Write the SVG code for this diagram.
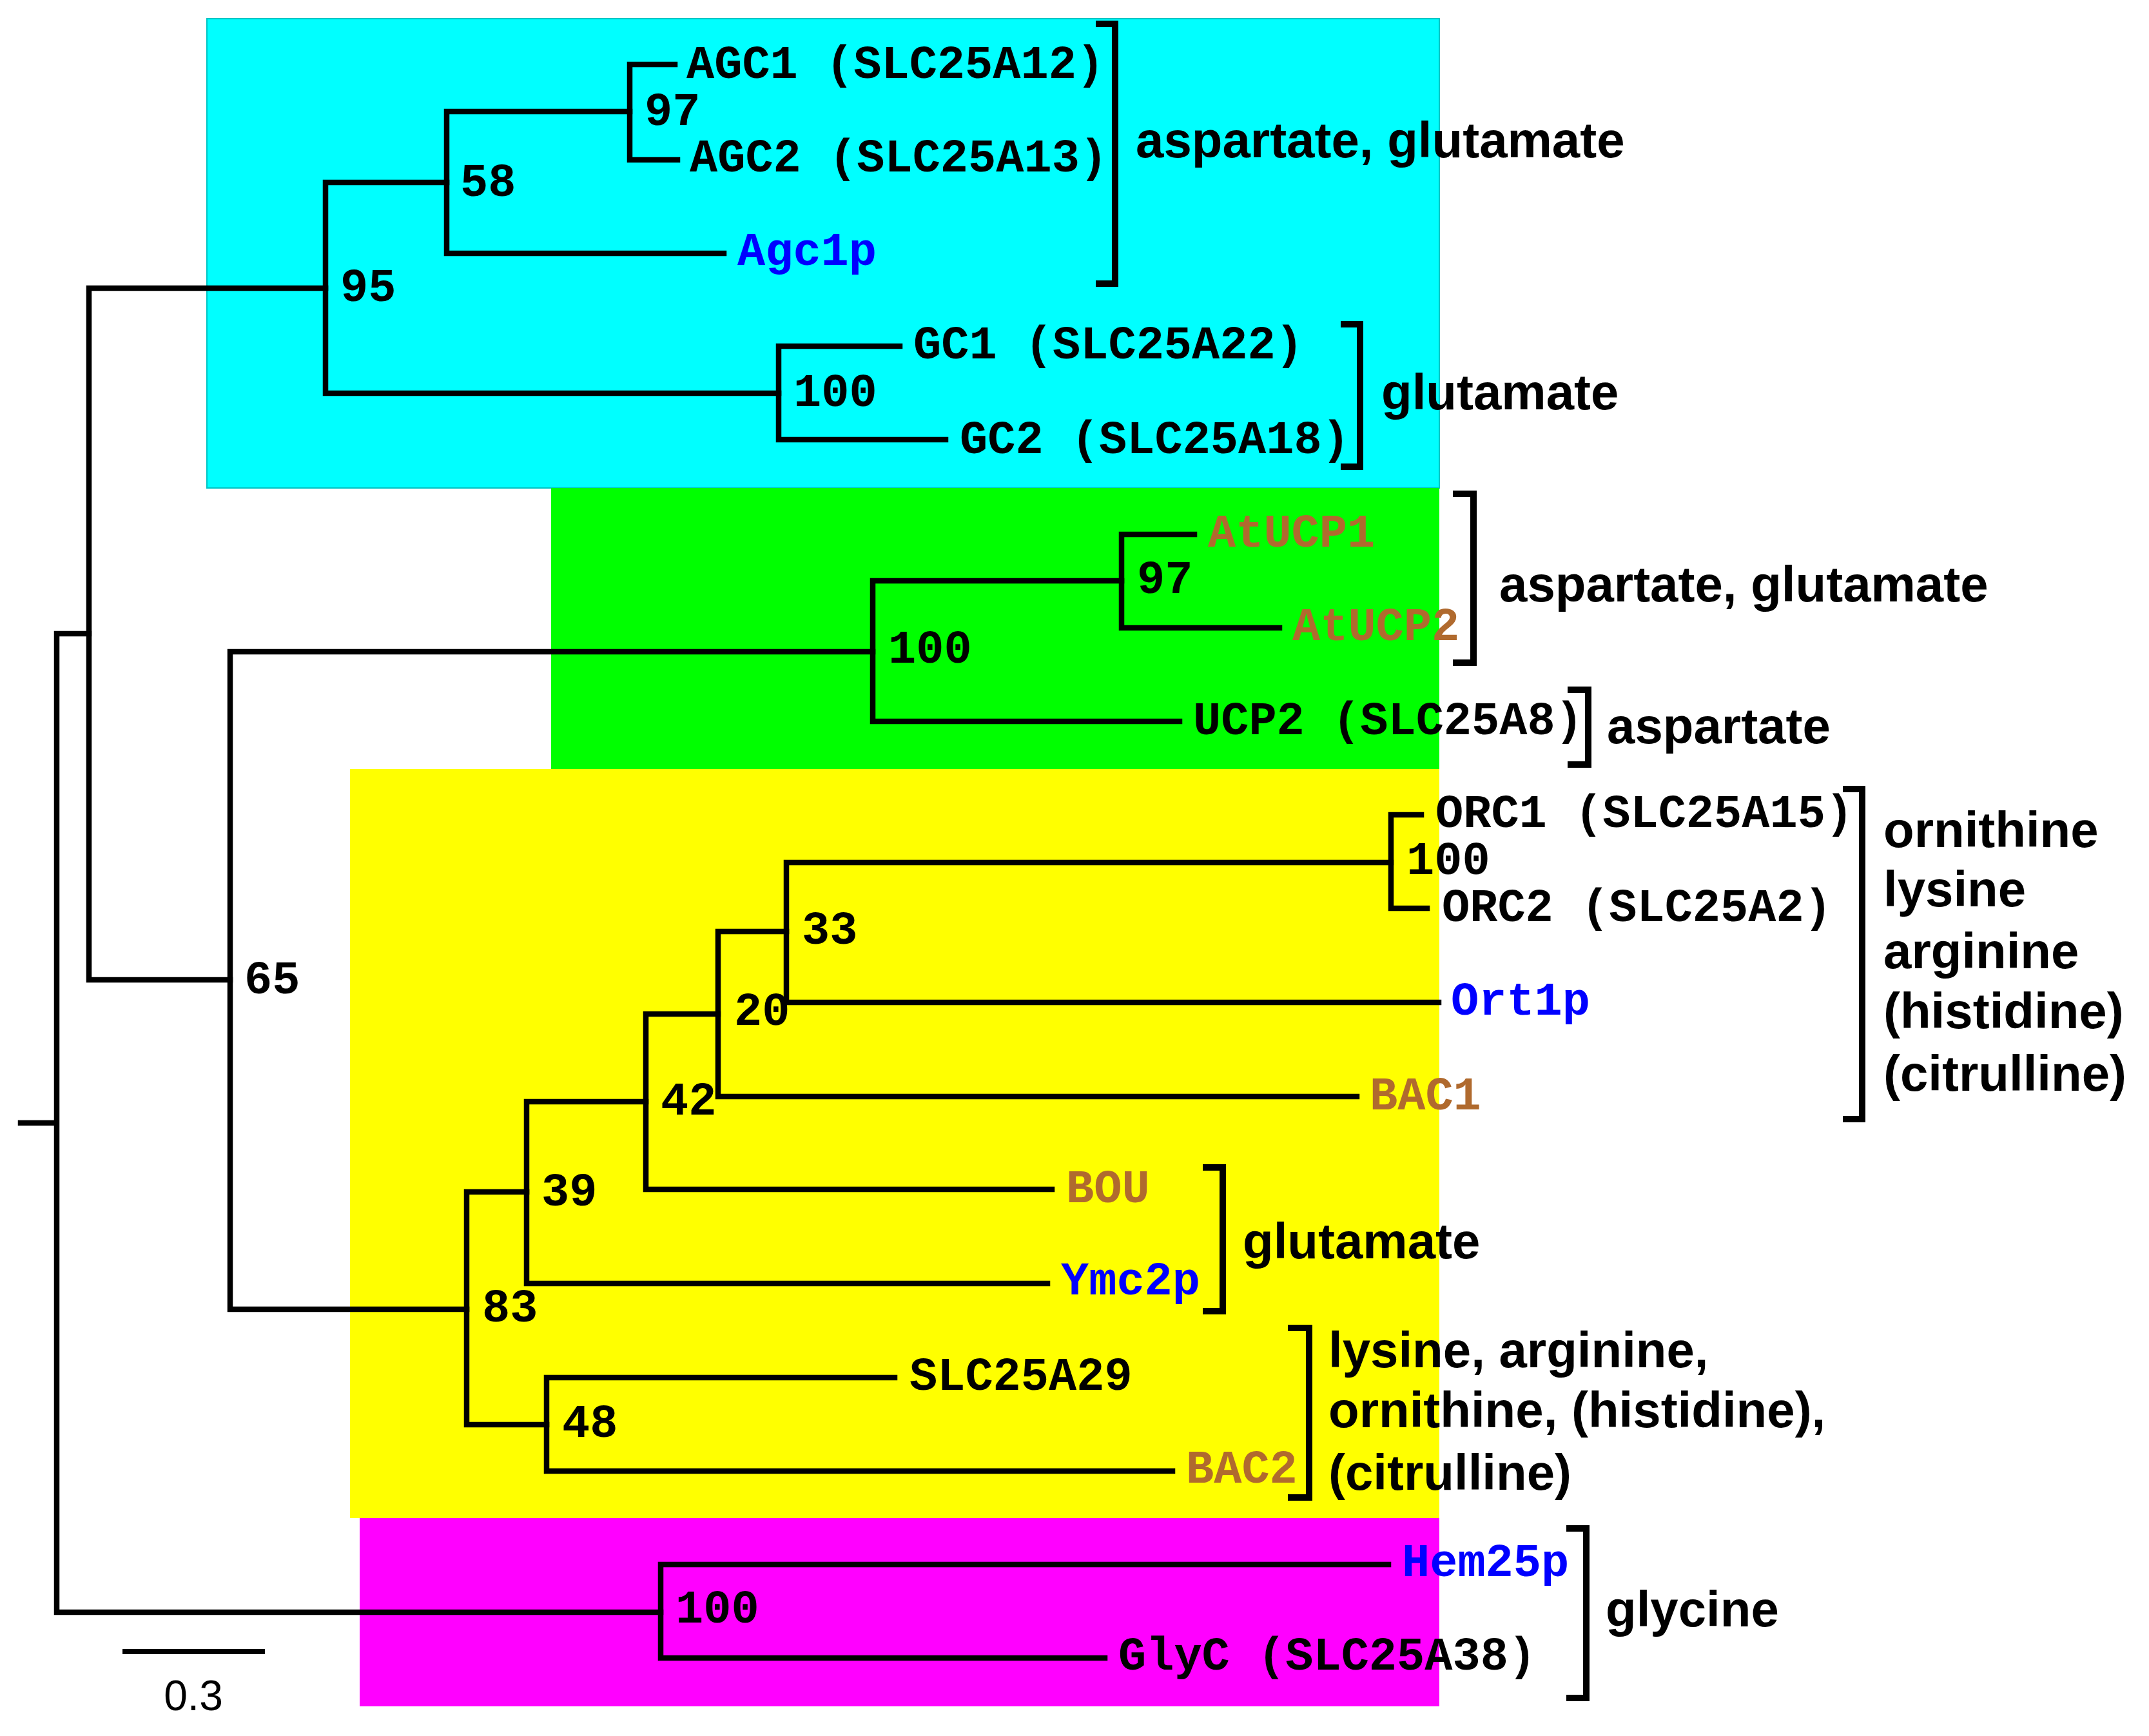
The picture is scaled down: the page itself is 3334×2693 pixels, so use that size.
<svg xmlns="http://www.w3.org/2000/svg" width="3334" height="2693" viewBox="0 0 3334 2693">
<style>
.tree{fill:none;stroke:#000;stroke-width:8.5;stroke-linecap:square;stroke-linejoin:miter}
.br{fill:none;stroke:#000;stroke-width:10;stroke-linejoin:miter}
.m{font-family:"Liberation Mono","Courier New",monospace;font-weight:bold;font-size:72px;fill:#000}
.bs{font-family:"Liberation Mono","Courier New",monospace;font-weight:bold;font-size:72px;fill:#000}
.brown{fill:#B06A2E}
.blue{fill:#0000FF}
.lab{font-family:"Liberation Sans",Arial,sans-serif;font-weight:bold;font-size:78px;fill:#000}
.sc{font-family:"Liberation Sans",Arial,sans-serif;font-size:66px;fill:#000}
</style>
<rect width="3334" height="2693" fill="#fff"/>
<g id="regions">
<rect x="321" y="29" width="1912" height="728" fill="#00FFFF" stroke="#00C4C4" stroke-width="2"/>
<rect x="855" y="757" width="1378" height="436" fill="#00FF00"/>
<rect x="543" y="1193" width="1690" height="1162" fill="#FFFF00"/>
<rect x="558" y="2355" width="1675" height="292" fill="#FF00FF"/>
</g>
<g id="connectors" class="tree">
<path d="M32 1742H88M88 983V2501M88 983H138M88 2501H1025"/>
<path d="M138 447V1520M138 447H505M138 1520H357"/>
<path d="M505 283V610M505 283H693M505 610H1208"/>
<path d="M693 173V393M693 173H977M693 393H1123"/>
<path d="M977 100V248M977 100H1047M977 248H1051"/>
<path d="M1208 537V682M1208 537H1396M1208 682H1467"/>
<path d="M357 1011V2031M357 1011H1354M357 2031H724"/>
<path d="M1354 901V1119M1354 901H1740M1354 1119H1830"/>
<path d="M1740 829V974M1740 829H1853M1740 974H1985"/>
<path d="M724 1849V2210M724 1849H817M724 2210H848"/>
<path d="M817 1709V1991M817 1709H1002M817 1991H1625"/>
<path d="M1002 1573V1845M1002 1573H1114M1002 1845H1632"/>
<path d="M1114 1445V1701M1114 1445H1220M1114 1701H2105"/>
<path d="M1220 1338V1555M1220 1338H2158M1220 1555H2232"/>
<path d="M2158 1264V1409M2158 1264H2205M2158 1409H2214"/>
<path d="M848 2137V2282M848 2137H1388M848 2282H1819"/>
<path d="M1025 2427V2572M1025 2427H2154M1025 2572H1714"/>
</g>
<g id="bootstrap" class="bs">
<text x="1000" y="194">97</text>
<text x="714" y="304">58</text>
<text x="528" y="467">95</text>
<text x="1231" y="630">100</text>
<text x="1764" y="920">97</text>
<text x="1378" y="1028">100</text>
<text x="379" y="1541">65</text>
<text x="2182" y="1356">100</text>
<text x="1244" y="1464">33</text>
<text x="1139" y="1590">20</text>
<text x="1025" y="1729">42</text>
<text x="840" y="1870">39</text>
<text x="748" y="2050">83</text>
<text x="872" y="2229">48</text>
<text x="1048" y="2517">100</text>
</g>
<g id="leaf-AGC1"><text class="m" x="1065" y="121">AGC1 (SLC25A12)</text></g>
<g id="leaf-AGC2"><text class="m" x="1070" y="266">AGC2 (SLC25A13)</text></g>
<g id="leaf-Agc1p"><text class="m blue" x="1144" y="411">Agc1p</text></g>
<g id="leaf-GC1"><text class="m" x="1417" y="556">GC1 (SLC25A22)</text></g>
<g id="leaf-GC2"><text class="m" x="1489" y="703">GC2 (SLC25A18)</text></g>
<g id="leaf-AtUCP1"><text class="m brown" x="1874" y="848">AtUCP1</text></g>
<g id="leaf-AtUCP2"><text class="m brown" x="2005" y="993">AtUCP2</text></g>
<g id="leaf-UCP2"><text class="m" x="1851" y="1139">UCP2 (SLC25A8)</text></g>
<g id="leaf-ORC1"><text class="m" x="2227" y="1283">ORC1 (SLC25A15)</text></g>
<g id="leaf-ORC2"><text class="m" x="2237" y="1429">ORC2 (SLC25A2)</text></g>
<g id="leaf-Ort1p"><text class="m blue" x="2251" y="1574">Ort1p</text></g>
<g id="leaf-BAC1"><text class="m brown" x="2125" y="1721">BAC1</text></g>
<g id="leaf-BOU"><text class="m brown" x="1654" y="1865">BOU</text></g>
<g id="leaf-Ymc2p"><text class="m blue" x="1646" y="2008">Ymc2p</text></g>
<g id="leaf-SLC25A29"><text class="m" x="1411" y="2156">SLC25A29</text></g>
<g id="leaf-BAC2"><text class="m brown" x="1840" y="2300">BAC2</text></g>
<g id="leaf-Hem25p"><text class="m blue" x="2175" y="2445">Hem25p</text></g>
<g id="leaf-GlyC"><text class="m" x="1735" y="2590">GlyC (SLC25A38)</text></g>
<g id="group-1">
<path class="br" d="M1700 37H1730V440H1700"/>
<text class="lab" x="1762" y="244">aspartate, glutamate</text>
</g>
<g id="group-2">
<path class="br" d="M2080 503H2110V724H2080"/>
<text class="lab" x="2143" y="635">glutamate</text>
</g>
<g id="group-3">
<path class="br" d="M2254 766H2286V1028H2254"/>
<text class="lab" x="2326" y="933">aspartate, glutamate</text>
</g>
<g id="group-4">
<path class="br" d="M2432 1070H2464V1186H2432"/>
<text class="lab" x="2493" y="1153">aspartate</text>
</g>
<g id="group-5">
<path class="br" d="M2859 1224H2889V1736H2859"/>
<text class="lab" x="2922" y="1314">ornithine</text>
<text class="lab" x="2922" y="1406">lysine</text>
<text class="lab" x="2922" y="1502">arginine</text>
<text class="lab" x="2922" y="1595">(histidine)</text>
<text class="lab" x="2922" y="1692">(citrulline)</text>
</g>
<g id="group-6">
<path class="br" d="M1866 1811H1897V2034H1866"/>
<text class="lab" x="1928" y="1952">glutamate</text>
</g>
<g id="group-7">
<path class="br" d="M1998 2060H2031V2323H1998"/>
<text class="lab" x="2061" y="2121">lysine, arginine,</text>
<text class="lab" x="2061" y="2214">ornithine, (histidine),</text>
<text class="lab" x="2061" y="2311">(citrulline)</text>
</g>
<g id="group-8">
<path class="br" d="M2430 2371H2461V2634H2430"/>
<text class="lab" x="2491" y="2523">glycine</text>
</g>
<g id="scale-bar">
<path d="M190 2562H411" stroke="#000" stroke-width="8"/>
<text class="sc" x="300" y="2653" text-anchor="middle">0.3</text>
</g>
</svg>
